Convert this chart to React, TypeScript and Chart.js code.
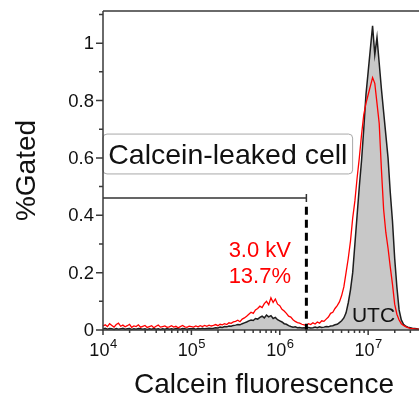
import { useEffect, useRef } from "react";
import { Chart, registerables } from "chart.js";

Chart.register(...registerables);

// Histogram bins: log10(fluorescence) from 10^4, one bin every 0.025 decade
const BIN_START_EXP = 4;
const BIN_STEP_EXP = 0.025;

// UTC (untreated control) histogram, %Gated
const utcValues = [
  0.004, 0.006, 0.003, 0.005, 0.004, 0.002, 0.005, 0.003, 0.004, 0.006,
  0.003, 0.004, 0.005, 0.002, 0.004, 0.003, 0.005, 0.004, 0.003, 0.004,
  0.002, 0.004, 0.003, 0.005, 0.003, 0.004, 0.002, 0.004, 0.003, 0.005,
  0.003, 0.004, 0.003, 0.005, 0.004, 0.003, 0.005, 0.004, 0.003, 0.004,
  0.004, 0.005, 0.003, 0.005, 0.004, 0.006, 0.004, 0.005, 0.006, 0.005,
  0.006, 0.008, 0.007, 0.010, 0.009, 0.012, 0.011, 0.014, 0.013, 0.016,
  0.017, 0.019, 0.018, 0.022, 0.025, 0.028, 0.032, 0.035, 0.033, 0.040,
  0.038, 0.044, 0.048, 0.042, 0.052, 0.046, 0.050, 0.040, 0.044, 0.036,
  0.032, 0.028, 0.022, 0.020, 0.015, 0.012, 0.010, 0.011, 0.008, 0.009,
  0.007, 0.008, 0.006, 0.009, 0.007, 0.008, 0.010, 0.008, 0.011, 0.009,
  0.010, 0.012, 0.011, 0.014, 0.015, 0.018, 0.020, 0.026, 0.032, 0.042,
  0.060, 0.095, 0.140, 0.200, 0.300, 0.400, 0.500, 0.590, 0.700, 0.820,
  0.900, 0.980, 1.060, 0.960, 1.020, 0.930, 0.840, 0.760, 0.680, 0.600,
  0.480, 0.380, 0.250, 0.150, 0.070, 0.035, 0.020, 0.013, 0.010, 0.008,
  0.006, 0.005, 0.004, 0.003,
];

// 3.0 kV treated histogram, %Gated
const kv30Values = [
  0.014, 0.018, 0.012, 0.022, 0.016, 0.010, 0.019, 0.024, 0.013, 0.017,
  0.011, 0.015, 0.020, 0.009, 0.014, 0.012, 0.018, 0.010, 0.013, 0.016,
  0.009, 0.012, 0.015, 0.008, 0.013, 0.017, 0.010, 0.012, 0.014, 0.009,
  0.011, 0.015, 0.010, 0.013, 0.008, 0.012, 0.016, 0.011, 0.009, 0.013,
  0.012, 0.010, 0.014, 0.011, 0.015, 0.012, 0.016, 0.013, 0.017, 0.014,
  0.016, 0.019, 0.015, 0.020, 0.018, 0.022, 0.019, 0.025, 0.023, 0.028,
  0.030, 0.034, 0.029, 0.038, 0.042, 0.048, 0.055, 0.062, 0.058, 0.070,
  0.075, 0.083, 0.078, 0.092, 0.100, 0.088, 0.112, 0.096, 0.108, 0.090,
  0.085, 0.072, 0.066, 0.058, 0.048, 0.045, 0.036, 0.030, 0.026, 0.024,
  0.020, 0.018, 0.016, 0.022, 0.019, 0.025, 0.021, 0.028, 0.024, 0.032,
  0.030, 0.038, 0.045, 0.058, 0.062, 0.075, 0.085, 0.098, 0.120, 0.150,
  0.200, 0.250, 0.310, 0.390, 0.450, 0.530, 0.600, 0.680, 0.750, 0.790,
  0.820, 0.850, 0.880, 0.860, 0.790, 0.720, 0.560, 0.420, 0.340, 0.285,
  0.220, 0.160, 0.090, 0.055, 0.035, 0.022, 0.016, 0.012, 0.008, 0.006,
  0.005, 0.004, 0.003, 0.003,
];

const binCenters = utcValues.map((_, i) => Math.pow(10, BIN_START_EXP + i * BIN_STEP_EXP));

const X_MIN = 1e4;
const X_MAX = 3.76e7;
const Y_MIN = 0;
const Y_MAX = 1.112;

const yMajorTicks = [0, 0.2, 0.4, 0.6, 0.8, 1];
const yMajorLabels = ["0", "0.2", "0.4", "0.6", "0.8", "1"];
const yMinorTicks = [0.1, 0.3, 0.5, 0.7, 0.9, 1.1];
const xMajorExponents = [4, 5, 6, 7];
const xMinorMultipliers = [2, 3, 4, 5, 6, 7, 8, 9];

// Gate annotation (data coordinates)
const gateUpperValue = 2.0e6;
const gateLevel = 0.46;
const gateDashTop = 0.43;
const gateLabel = "Calcein-leaked cell";
const gateBox = { x1: 1e4, x2: 6.67e6, y1: 0.544, y2: 0.683 };
const treatedLabel = ["3.0 kV", "13.7%"];
const treatedLabelPos = { x: 1.34e6, y: [0.256, 0.164] };
const controlLabel = "UTC";
const controlLabelPos = { x: 6.55e6, y: 0.028 };

const xTitle = "Calcein fluorescence";
const yTitle = "%Gated";

const FONT = '"Liberation Sans", Arial, Helvetica, sans-serif';

const overlayPlugin = {
  id: "overlay",
  afterDatasetsDraw(chart: any) {
    const { ctx, chartArea: a, scales } = chart;
    const xs = scales.x;
    const ys = scales.y;
    ctx.save();

    // Gate box with label
    const bx1 = xs.getPixelForValue(gateBox.x1);
    const bx2 = xs.getPixelForValue(gateBox.x2);
    const by1 = ys.getPixelForValue(gateBox.y2);
    const by2 = ys.getPixelForValue(gateBox.y1);
    const r = 4;
    ctx.beginPath();
    ctx.moveTo(bx1 + r, by1);
    ctx.lineTo(bx2 - r, by1);
    ctx.arcTo(bx2, by1, bx2, by1 + r, r);
    ctx.lineTo(bx2, by2 - r);
    ctx.arcTo(bx2, by2, bx2 - r, by2, r);
    ctx.lineTo(bx1 + r, by2);
    ctx.arcTo(bx1, by2, bx1, by2 - r, r);
    ctx.lineTo(bx1, by1 + r);
    ctx.arcTo(bx1, by1, bx1 + r, by1, r);
    ctx.closePath();
    ctx.fillStyle = "#ffffff";
    ctx.fill();
    ctx.strokeStyle = "#a8a8a8";
    ctx.lineWidth = 1;
    ctx.stroke();
    ctx.fillStyle = "#111111";
    ctx.font = `28.5px ${FONT}`;
    ctx.textAlign = "center";
    ctx.textBaseline = "alphabetic";
    ctx.fillText(gateLabel, (bx1 + bx2) / 2, (by1 + by2) / 2 + 10);

    // Gate bar
    const gx = xs.getPixelForValue(gateUpperValue);
    const gy = ys.getPixelForValue(gateLevel);
    ctx.strokeStyle = "#333333";
    ctx.lineWidth = 1.5;
    ctx.beginPath();
    ctx.moveTo(a.left, gy);
    ctx.lineTo(gx, gy);
    ctx.moveTo(gx, gy - 4);
    ctx.lineTo(gx, gy + 4);
    ctx.stroke();

    // Dashed gate boundary
    ctx.strokeStyle = "#000000";
    ctx.lineWidth = 3;
    ctx.setLineDash([8, 5]);
    ctx.beginPath();
    ctx.moveTo(gx, ys.getPixelForValue(gateDashTop));
    ctx.lineTo(gx, a.bottom);
    ctx.stroke();
    ctx.setLineDash([]);

    // Series labels
    ctx.fillStyle = "#ff0000";
    ctx.font = `22px ${FONT}`;
    ctx.textAlign = "right";
    const tx = xs.getPixelForValue(treatedLabelPos.x);
    treatedLabel.forEach((t, i) => ctx.fillText(t, tx, ys.getPixelForValue(treatedLabelPos.y[i])));
    ctx.fillStyle = "#111111";
    ctx.textAlign = "left";
    ctx.font = `21px ${FONT}`;
    ctx.fillText(controlLabel, xs.getPixelForValue(controlLabelPos.x), ys.getPixelForValue(controlLabelPos.y));

    // Axes frame
    ctx.strokeStyle = "#3a3a3a";
    ctx.lineWidth = 1.5;
    ctx.beginPath();
    ctx.moveTo(a.left, a.top);
    ctx.lineTo(a.right, a.top);
    ctx.moveTo(a.left, a.top);
    ctx.lineTo(a.left, a.bottom);
    ctx.lineTo(a.right, a.bottom);
    ctx.stroke();

    // Y ticks
    ctx.beginPath();
    yMajorTicks.forEach((v) => {
      const py = ys.getPixelForValue(v);
      ctx.moveTo(a.left - 7, py);
      ctx.lineTo(a.left, py);
    });
    yMinorTicks.forEach((v) => {
      const py = ys.getPixelForValue(v);
      ctx.moveTo(a.left - 4, py);
      ctx.lineTo(a.left, py);
    });
    // X ticks
    xMajorExponents.forEach((e) => {
      const px = xs.getPixelForValue(Math.pow(10, e));
      ctx.moveTo(px, a.bottom);
      ctx.lineTo(px, a.bottom + 5);
      xMinorMultipliers.forEach((m) => {
        const v = m * Math.pow(10, e);
        if (v <= X_MAX) {
          const mx = xs.getPixelForValue(v);
          ctx.moveTo(mx, a.bottom);
          ctx.lineTo(mx, a.bottom + 3);
        }
      });
    });
    ctx.stroke();

    // Y tick labels
    ctx.fillStyle = "#111111";
    ctx.font = `18.5px ${FONT}`;
    ctx.textAlign = "right";
    ctx.textBaseline = "middle";
    yMajorTicks.forEach((v, i) => ctx.fillText(yMajorLabels[i], a.left - 9, ys.getPixelForValue(v) + 1));

    // X tick labels 10^n
    ctx.textBaseline = "alphabetic";
    ctx.textAlign = "left";
    xMajorExponents.forEach((e) => {
      const px = xs.getPixelForValue(Math.pow(10, e));
      ctx.font = `18px ${FONT}`;
      const wb = ctx.measureText("10").width;
      ctx.font = `13px ${FONT}`;
      const we = ctx.measureText(String(e)).width;
      const start = px - (wb + we) / 2;
      ctx.font = `18px ${FONT}`;
      ctx.fillText("10", start, a.bottom + 26);
      ctx.font = `13px ${FONT}`;
      ctx.fillText(String(e), start + wb + 0.5, a.bottom + 18);
    });

    // Axis titles
    ctx.font = `28px ${FONT}`;
    ctx.textAlign = "center";
    ctx.fillText(xTitle, (a.left + a.right) / 2 + 3, a.bottom + 63);
    ctx.save();
    ctx.translate(35, (a.top + a.bottom) / 2);
    ctx.rotate(-Math.PI / 2);
    ctx.fillText(yTitle, 0, 0);
    ctx.restore();

    ctx.restore();
  },
};

export default function App() {
  const ref = useRef<HTMLCanvasElement | null>(null);
  useEffect(() => {
    if (!ref.current) return;
    const chart = new Chart(ref.current, {
      type: "line",
      data: {
        datasets: [
          {
            label: "3.0 kV",
            data: binCenters.map((x, i) => ({ x, y: kv30Values[i] })),
            borderColor: "#ff0000",
            borderWidth: 1.3,
            pointRadius: 0,
            fill: false,
            tension: 0,
            clip: 3,
          },
          {
            label: "UTC",
            data: binCenters.map((x, i) => ({ x, y: utcValues[i] })),
            borderColor: "#1e1e1e",
            backgroundColor: "#c8c8c8",
            borderWidth: 1.5,
            pointRadius: 0,
            fill: "origin",
            tension: 0,
            clip: 3,
          },
        ],
      },
      options: {
        animation: false,
        responsive: false,
        devicePixelRatio: 1,
        layout: { padding: { top: 11, right: 0, left: 0, bottom: 0 } },
        plugins: { legend: { display: false }, tooltip: { enabled: false } },
        scales: {
          x: {
            type: "logarithmic",
            min: X_MIN,
            max: X_MAX,
            ticks: { display: false },
            grid: { display: false },
            border: { display: false },
            afterFit: (s: any) => {
              s.height = 71;
            },
          },
          y: {
            min: Y_MIN,
            max: Y_MAX,
            ticks: { display: false },
            grid: { display: false },
            border: { display: false },
            afterFit: (s: any) => {
              s.width = 103;
            },
          },
        },
      },
      plugins: [overlayPlugin],
    });
    return () => chart.destroy();
  }, []);
  return (
    <div style={{ position: "absolute", left: 0, top: 0, width: 419, height: 401 }}>
      <canvas ref={ref} width={419} height={401} />
    </div>
  );
}
